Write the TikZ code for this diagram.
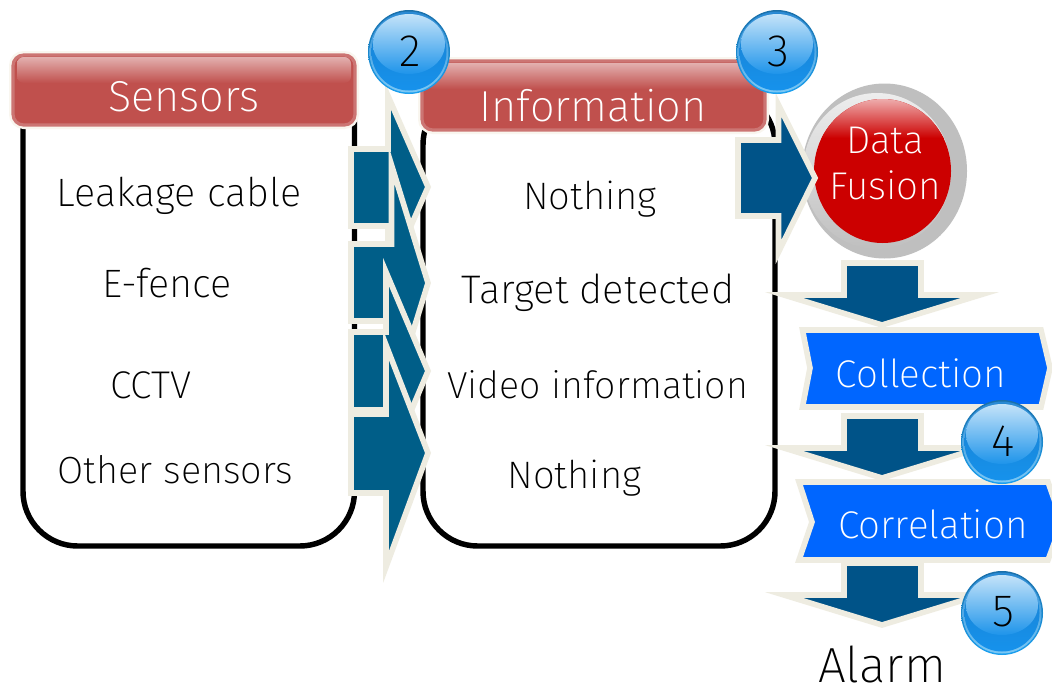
\documentclass[tikz,border=0pt]{standalone}
\usepackage{fontspec}
\setmainfont{Fira Sans}[UprightFont={* ExtraLight}]
\definecolor{cream}{HTML}{EEECE1}
\definecolor{halo}{HTML}{F9F6EF}
\definecolor{arrA}{HTML}{005E88}
\definecolor{arrB}{HTML}{005388}
\definecolor{hdr}{HTML}{C0504D}
\definecolor{hdrb}{HTML}{CC7573}
\definecolor{chev}{HTML}{0066FF}
\definecolor{redc}{HTML}{CC0000}
\definecolor{pink}{HTML}{EEACAC}
\definecolor{ballA}{HTML}{1B6FA8}
\definecolor{ballB}{HTML}{1BA0F0}
\definecolor{ballC}{HTML}{2A8AD4}
\definecolor{ballD}{HTML}{7CC8F5}
\definecolor{ballE}{HTML}{1A80CF}
\definecolor{ballF}{HTML}{1692EC}
\definecolor{ballG}{HTML}{C4E3F9}
\definecolor{ballH}{HTML}{1E94EA}
\tikzset{
  panel/.style={draw=black,line width=4.1pt,fill=white,rounded corners=41pt},
  block/.style={draw=cream,line width=4.2pt,miter limit=30,line join=miter},
  txt/.style={inner sep=0pt,text=black,font=\fontsize{29}{29}\selectfont},
  wtxt/.style={txt,text=white},
  numtxt/.style={txt,font=\fontsize{34}{34}\selectfont},
  sized/.style={font=\fontsize{#1}{#1}\selectfont},
}
\newcommand{\ball}[4]{%
  \path[shade,top color=ballA,bottom color=ballB] (#2,#3) ellipse[x radius=41,y radius=42];
  \path[shade,top color=ballC,bottom color=ballD] (#2,#3) ellipse[x radius=39.5,y radius=40.5];
  \path[shade,top color=ballE,bottom color=ballF] (#2,#3) ellipse[x radius=37.5,y radius=38.5];
  \path[shade,top color=ballG,bottom color=ballH] (#2,#3-8) ellipse[x radius=36,y radius=30];
  \node[numtxt] (#4) at (#2+1,#3-1) {#1};
}
\newcommand{\header}[7]{%
  \path[draw=halo,line width=6pt,rounded corners=8pt,fill=hdr] (#1,#2) rectangle (#3,#4);
  \path[draw=hdrb,line width=2.4pt,rounded corners=8pt,fill=hdr] (#1,#2) rectangle (#3,#4);
  \path[shade,top color=hdr!45!white,bottom color=hdr,rounded corners=5pt] (#1+4,#2+2) rectangle (#3-4,#2+28);
  \node[wtxt,font=\fontsize{32.5}{32.5}\selectfont] (#6) at #7 {#5};
}
\begin{document}
\begin{tikzpicture}[x=0.75pt,y=-0.75pt]
\path[use as bounding box,clip] (0,0) rectangle (1052,682);
\fill[white] (0,0) rectangle (1052,682);
% panels
\path[panel] (23,55) rectangle (354.5,546);
\path[panel] (423,90) rectangle (775,546);
\header{13}{55}{355}{125}{Sensors}{sensors}{(184,97)}
\header{422}{61}{765}{130}{Information}{information}{(593,106)}
% panel texts
\node[txt,sized=29.7] (leak) at (179,196) {Leakage cable};
\node[txt,sized=29.7] (efence) at (167,283) {E-fence};
\node[txt] (cctv) at (151,385) {CCTV};
\node[txt,sized=28.4] (other) at (175.5,470) {Other sensors};
\node[txt,sized=28.7] (nothingA) at (590,199) {Nothing};
\node[txt,sized=29.9] (target) at (598,293) {Target detected};
\node[txt,sized=28.2] (video) at (597.5,385) {Video information};
\node[txt,sized=28.7] (nothingB) at (574.5,478) {Nothing};
% sensor-to-information arrows
\draw[block,fill=arrA] (351,149) -- (388,149) -- (388,96) -- (428,187) -- (388,278) -- (388,226) -- (351,226) -- cycle;
\draw[block,fill=arrA] (351,244) -- (391.5,244) -- (391.5,165) -- (428,283) -- (391.5,401) -- (391.5,321) -- (351,321) -- cycle;
\draw[block,fill=arrA] (351,332) -- (386,332) -- (386,272) -- (428,371) -- (386,470) -- (386,410) -- (351,410) -- cycle;
\draw[block,fill=arrA] (351,414) -- (386,414) -- (386,345) -- (428,453) -- (386,567) -- (386,493) -- (351,493) -- cycle;
% data fusion
\fill[fill=black!25] (884.5,171) ellipse[x radius=82.5,y radius=87.5];
\path[shade,top color=black!7,middle color=black!25,bottom color=black!25] (877,171) ellipse[x radius=74,y radius=78];
\fill[fill=redc] (882.5,171) ellipse[x radius=68.5,y radius=72];
\begin{scope}
  \clip (882.5,171) ellipse[x radius=68.5,y radius=72];
  \path[shade,top color=pink,bottom color=redc] (800,99) rectangle (960,138);
\end{scope}
\node[wtxt] (data) at (885,140) {Data};
\node[wtxt] (fusion) at (885,185) {Fusion};
\draw[block,fill=arrB] (738,140) -- (778.5,140) -- (778.5,105) -- (815,178) -- (778.5,252) -- (778.5,216) -- (738,216) -- cycle;
% down arrows
\draw[block,fill=arrB] (844,263) -- (921,263) -- (921,295) -- (980,295) -- (882,325) -- (784,295) -- (844,295) -- cycle;
\draw[block,fill=arrB] (844,416) -- (921,416) -- (921,448) -- (980,448) -- (882,478) -- (784,448) -- (844,448) -- cycle;
\draw[block,fill=arrB] (844,563) -- (921,563) -- (921,595) -- (980,595) -- (882,625) -- (784,595) -- (844,595) -- cycle;
% process shapes
\draw[block,fill=chev] (802.5,330) -- (1041,330) -- (1050,368) -- (1041,407) -- (802.5,407) -- (810,368) -- cycle;
\draw[block,fill=chev] (799,482) -- (1048,482) -- (1062,522) -- (1048,560) -- (799,560) -- (812,522) -- cycle;
\node[wtxt] (collect) at (921,373) {Collection};
\node[wtxt] (correl) at (933,524) {Correlation};
\node[txt,font=\fontsize{37}{37}\selectfont] (alarm) at (882,664) {Alarm};
% numbered balls
\ball{2}{409}{52}{numA}
\ball{3}{777}{52}{numB}
\ball{4}{1002}{442}{numC}
\ball{5}{1002}{613}{numD}
\end{tikzpicture}
\end{document}
